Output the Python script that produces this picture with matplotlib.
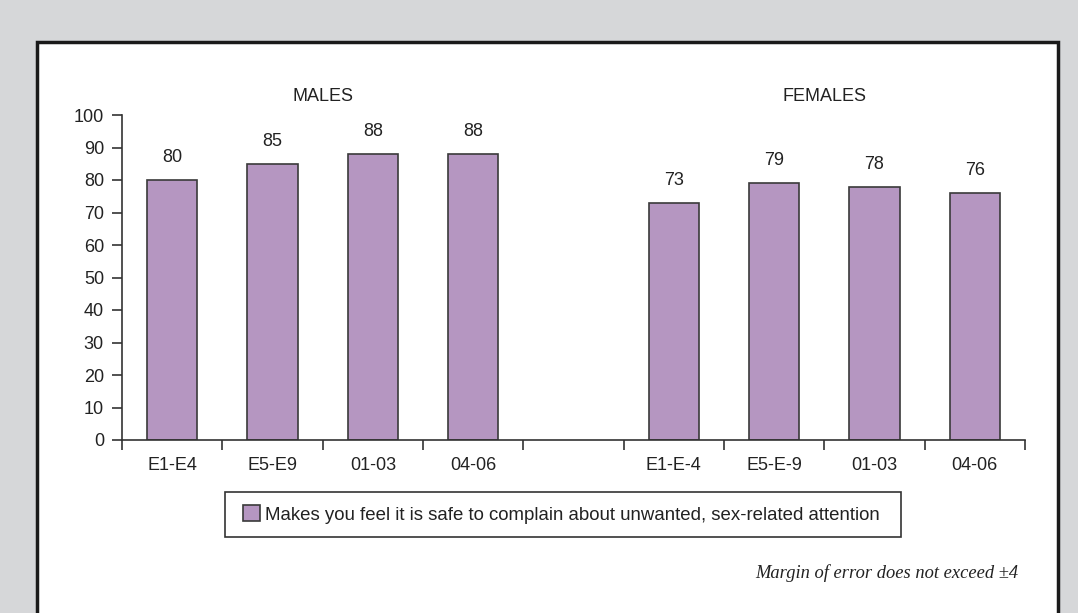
import matplotlib
matplotlib.use("Agg")
import matplotlib.pyplot as plt
from matplotlib.patches import Rectangle, Patch

plt.rcParams['font.family'] = ['Liberation Sans', 'DejaVu Sans']

male_labels = ["E1-E4", "E5-E9", "01-03", "04-06"]
female_labels = ["E1-E-4", "E5-E-9", "01-03", "04-06"]
male_values = [80, 85, 88, 88]
female_values = [73, 79, 78, 76]
group_titles = ["MALES", "FEMALES"]
yticks = [0, 10, 20, 30, 40, 50, 60, 70, 80, 90, 100]
legend_label = "Makes you feel it is safe to complain about unwanted, sex-related attention"
footnote = "Margin of error does not exceed \u00b14"

W, H = 1078, 613
fig = plt.figure(figsize=(W / 100, H / 100), dpi=100)
fig.patch.set_facecolor("#d6d7d9")

# white panel with dark border (left, top, right)
panel = Rectangle((37 / W, -0.05), (1058 - 37) / W, 1.05 - 42 / H,
                  transform=fig.transFigure, facecolor="white",
                  edgecolor="#1a1a1a", linewidth=2.5, zorder=-10)
fig.add_artist(panel)

ax = fig.add_axes([122 / W, 1 - 440 / H, (1025 - 122) / W, (440 - 115) / H])
ax.set_facecolor("none")
ax.set_zorder(1)

bar_color = "#b596c1"
edge_color = "#3a3a3a"
txt_color = "#222222"
fs = 13

male_x = list(range(len(male_values)))
female_x = [len(male_values) + 1 + i for i in range(len(female_values))]

ax.bar(male_x, male_values, width=0.5, color=bar_color, edgecolor=edge_color, linewidth=1.2)
ax.bar(female_x, female_values, width=0.5, color=bar_color, edgecolor=edge_color, linewidth=1.2)

for x, v in zip(male_x + female_x, male_values + female_values):
    ax.text(x, v + 4.3, str(v), ha="center", va="bottom", fontsize=fs, color=txt_color)

ax.set_xlim(-0.5, 8.5)
ax.set_ylim(0, 100)
ax.set_yticks(yticks)
ax.set_yticklabels([str(t) for t in yticks], fontsize=fs, color=txt_color)

ax.set_xticks(male_x + female_x)
ax.set_xticklabels(male_labels + female_labels, fontsize=fs, color=txt_color)
ax.tick_params(axis="x", which="major", length=0, pad=12)
ax.set_xticks([i - 0.5 for i in range(10)], minor=True)
ax.tick_params(axis="x", which="minor", length=7, width=1.2, color="#333333")
ax.tick_params(axis="y", length=7, width=1.2, color="#333333", pad=6)

for s in ["top", "right"]:
    ax.spines[s].set_visible(False)
for s in ["left", "bottom"]:
    ax.spines[s].set_color("#333333")
    ax.spines[s].set_linewidth(1.2)

# group titles
ax.text(sum(male_x) / len(male_x), 103.2, group_titles[0], ha="center", va="bottom", fontsize=fs, color=txt_color)
ax.text(sum(female_x) / len(female_x), 103.2, group_titles[1], ha="center", va="bottom", fontsize=fs, color=txt_color)

# legend box
box = Rectangle((225 / W, 1 - 537 / H), (901 - 225) / W, (537 - 492) / H,
                transform=fig.transFigure, facecolor="white",
                edgecolor="#333333", linewidth=1.2, zorder=2)
fig.add_artist(box)

handle = Patch(facecolor=bar_color, edgecolor=edge_color, linewidth=1.2)
leg = fig.legend([handle], [legend_label], loc="center left",
                 bbox_to_anchor=(243 / W, 1 - 514.5 / H), fontsize=13.4,
                 frameon=False,
                 handlelength=0.9, handleheight=0.9, handletextpad=0.3,
                 borderpad=0, borderaxespad=0)
leg.set_zorder(3)
for t in leg.get_texts():
    t.set_color(txt_color)

fig.text(1018 / W, 1 - 573 / H, footnote, ha="right", va="center",
         fontsize=13.3, fontstyle="italic", family="Liberation Serif", color=txt_color)

fig.savefig("out.png", dpi=100, facecolor=fig.get_facecolor())
